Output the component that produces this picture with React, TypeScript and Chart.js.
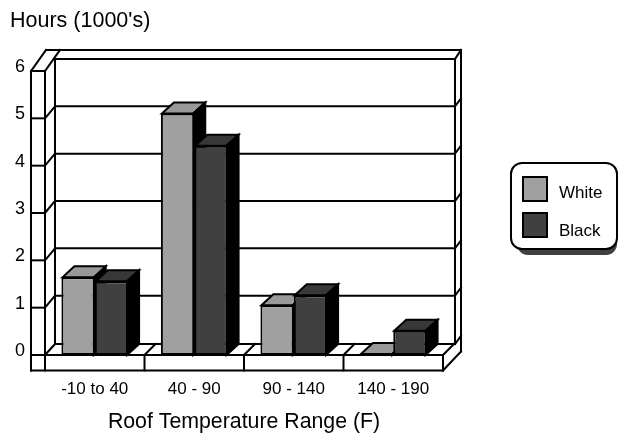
import React, { useEffect, useRef } from "react";
import { Chart, registerables } from "chart.js";

Chart.register(...registerables);

const categories = ["-10 to 40", "40 - 90", "90 - 140", "140 - 190"];
const whiteValues = [1.64, 5.1, 1.05, 0.02];
const blackValues = [1.56, 4.42, 1.26, 0.51];
const yTicks = [0, 1, 2, 3, 4, 5, 6];

const FONT = '"Liberation Sans", Arial, sans-serif';
const INK = "#000";
const WHITE_FILL = "#a0a0a0";
const WHITE_TOP = "#999999";
const BLACK_FILL = "#404040";
const BLACK_TOP = "#383838";

function poly(ctx: CanvasRenderingContext2D, pts: number[][], fill?: string) {
  ctx.beginPath();
  pts.forEach((p, i) => (i ? ctx.lineTo(p[0], p[1]) : ctx.moveTo(p[0], p[1])));
  ctx.closePath();
  if (fill) {
    ctx.fillStyle = fill;
    ctx.fill();
  }
  ctx.stroke();
}

function line(ctx: CanvasRenderingContext2D, x1: number, y1: number, x2: number, y2: number) {
  ctx.beginPath();
  ctx.moveTo(x1, y1);
  ctx.lineTo(x2, y2);
  ctx.stroke();
}

const frame3d = {
  id: "frame3d",
  beforeDatasetsDraw(chart: any) {
    const { ctx, chartArea: a, scales } = chart;
    const y = scales.y;
    const L = a.left, R = a.right, T = a.top, B = a.bottom;
    const wallX = L - 14;
    const floorY = B + 15.5;
    ctx.save();
    ctx.strokeStyle = INK;
    ctx.lineWidth = 2;
    ctx.lineCap = "square";
    // left wall
    line(ctx, wallX, T, wallX, floorY);
    line(ctx, L, T, L, floorY);
    line(ctx, wallX, T, L, T);
    line(ctx, wallX, T, wallX + 15, T - 21);
    line(ctx, L, T, L + 15, T - 21);
    // outer and inner back wall
    line(ctx, wallX + 15, T - 21, R + 18, T - 21);
    line(ctx, L + 10, T - 12, R + 12, T - 12);
    line(ctx, L + 10, T - 12, L + 10, B - 11);
    line(ctx, R + 12, T - 12, R + 12, B - 11);
    line(ctx, R + 18, T - 21, R + 18, floorY - 19);
    line(ctx, R + 12, T - 12, R + 18, T - 21);
    // horizontal grid from the scale
    yTicks.forEach((v) => {
      const p = y.getPixelForValue(v);
      if (v === 6) return;
      const back = v === 0 ? 11 : 12;
      line(ctx, wallX, p, L, p);
      line(ctx, L, p, L + 10, p - back);
      line(ctx, L + 10, p - back, R + 12, p - back);
      line(ctx, R + 12, p - back, R + 18, p - back - 8);
    });
    // floor
    line(ctx, wallX, B, R, B);
    line(ctx, wallX, floorY, R, floorY);
    line(ctx, R, floorY, R + 18, floorY - 19);
    const step = (R - L) / categories.length;
    categories.forEach((_, i) => {
      const x = L + step * (i + 1);
      line(ctx, x, B, x, floorY);
      line(ctx, x, B, x + 11, B - 11);
    });
    ctx.restore();
  },
};

const extrude = {
  id: "extrude",
  // White first, then Black on top of it, each with its own depth faces.
  beforeDatasetsDraw(chart: any) {
    const { ctx } = chart;
    chart.data.datasets.forEach((_: any, index: number) => {
      const meta = chart.getDatasetMeta(index);
      const top = index === 0 ? WHITE_TOP : BLACK_TOP;
      ctx.save();
      ctx.strokeStyle = INK;
      ctx.lineWidth = 2;
      meta.data.forEach((bar: any) => {
        const l = bar.x - bar.width / 2 + 1;
        const r = bar.x + bar.width / 2 - 1;
        const dx = 12;
        const dy = -11;
        poly(ctx, [[l, bar.y], [l + dx, bar.y + dy], [r + dx, bar.y + dy], [r, bar.y]], top);
        poly(ctx, [[r, bar.y], [r + dx, bar.y + dy], [r + dx, bar.base + dy], [r, bar.base]], "#000");
      });
      ctx.restore();
      meta.controller.draw();
    });
  },
  beforeDatasetDraw() {
    return false;
  },
};

const legendBox = {
  id: "legendBox",
  afterDraw(chart: any) {
    const { ctx } = chart;
    const x = 511, y = 163, w = 106, h = 86, rad = 11;
    ctx.save();
    ctx.fillStyle = BLACK_FILL;
    ctx.beginPath();
    ctx.roundRect(x + 6, y + 6, w - 6, h, rad);
    ctx.fill();
    ctx.fillStyle = "#fff";
    ctx.strokeStyle = INK;
    ctx.lineWidth = 2;
    ctx.beginPath();
    ctx.roundRect(x, y, w, h, rad);
    ctx.fill();
    ctx.stroke();
    const rows = [
      { sy: 177, ty: 193 },
      { sy: 213, ty: 231 },
    ];
    chart.data.datasets.forEach((d: any, i: number) => {
      ctx.fillStyle = d.backgroundColor;
      ctx.fillRect(523, rows[i].sy, 24, 24);
      ctx.strokeRect(523, rows[i].sy, 24, 24);
      ctx.fillStyle = INK;
      ctx.font = `17px ${FONT}`;
      ctx.textAlign = "left";
      ctx.textBaseline = "middle";
      ctx.fillText(d.label, 559, rows[i].ty);
    });
    ctx.restore();
  },
};

export default function App() {
  const ref = useRef<HTMLCanvasElement>(null);
  useEffect(() => {
    const chart = new Chart(ref.current!, {
      type: "bar",
      data: {
        labels: categories,
        datasets: [
          {
            label: "White",
            data: whiteValues,
            backgroundColor: WHITE_FILL,
            borderColor: INK,
            borderWidth: 2,
            borderSkipped: false,
            categoryPercentage: 0.67,
            barPercentage: 1,
          },
          {
            label: "Black",
            data: blackValues,
            backgroundColor: BLACK_FILL,
            borderColor: INK,
            borderWidth: 2,
            borderSkipped: false,
            categoryPercentage: 0.67,
            barPercentage: 1,
          },
        ],
      },
      options: {
        responsive: false,
        animation: false,
        layout: { padding: { left: 10, right: 175, top: 0, bottom: 0 } },
        plugins: {
          legend: { display: false },
          tooltip: { enabled: false },
          title: {
            display: true,
            text: "Hours (1000's)",
            align: "start",
            color: INK,
            font: { family: FONT, size: 21.5, weight: "normal" },
            padding: { top: 8, bottom: 37.2 },
          },
        },
        scales: {
          x: {
            afterFit: (s: any) => {
              s.height = 78;
            },
            grid: { display: false, drawTicks: false },
            border: { display: false },
            ticks: {
              color: INK,
              font: { family: FONT, size: 17 },
              padding: 24,
              maxRotation: 0,
            },
            title: {
              display: true,
              text: "Roof Temperature Range (F)",
              color: INK,
              font: { family: FONT, size: 21.3 },
              padding: { top: 0, bottom: -2 },
            },
          },
          y: {
            min: 0,
            max: 6,
            afterFit: (s: any) => {
              s.width = 35;
            },
            grid: { display: false, drawTicks: false },
            border: { display: false },
            ticks: {
              color: INK,
              stepSize: 1,
              padding: 20,
              labelOffset: -4,
              font: { family: FONT, size: 18 },
            },
          },
        },
      },
      plugins: [frame3d, extrude, legendBox],
    } as any);
    return () => chart.destroy();
  }, []);
  return (
    <div style={{ position: "absolute", left: 0, top: 0, width: 618, height: 433 }}>
      <canvas ref={ref} width={618} height={433} style={{ display: "block" }} />
    </div>
  );
}
